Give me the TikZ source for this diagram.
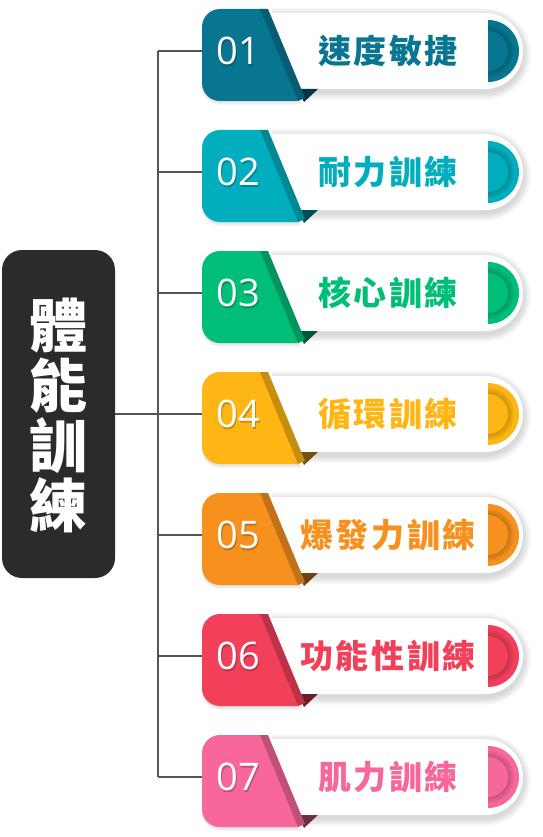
\documentclass[tikz,border=0pt]{standalone}
\usepackage{fontspec}
\newfontfamily\cjkfont{Noto Sans CJK TC}
\newfontfamily\cjksp{Noto Sans CJK TC}[LetterSpace=8]
\newfontfamily\numfont{Open Sans}
\definecolor{c01}{RGB}{8,118,145}
\definecolor{c02}{RGB}{0,174,190}
\definecolor{c03}{RGB}{0,190,120}
\definecolor{c04}{RGB}{253,182,19}
\definecolor{c05}{RGB}{247,145,30}
\definecolor{c06}{RGB}{242,64,90}
\definecolor{c07}{RGB}{247,103,155}
\definecolor{boxc}{RGB}{43,43,43}
\definecolor{linec}{RGB}{85,85,85}
\tikzset{
  conn/.style={draw=linec, line width=1.6pt},
  numtext/.style={text=white, font=\numfont\fontsize{38}{38}\selectfont, inner sep=0pt},
  numshadow/.style={text=black, opacity=0.22, font=\numfont\fontsize{38}{38}\selectfont, inner sep=0pt},
  labeltext/.style={font=\cjksp\bfseries\fontsize{33}{33}\selectfont, inner sep=0pt},
}
\begin{document}
\begin{tikzpicture}[x=1pt,y=-1pt]
\useasboundingbox (0,0) rectangle (542,837);
% main box
\node[fill=boxc, rounded corners=20pt, minimum width=113pt, minimum height=328pt, inner sep=0pt] (main) at (58.5,414) {};
\node[text=white, align=center, inner sep=0pt, font=\cjkfont\bfseries\fontsize{58}{60}\selectfont] (maintext) at (58.5,415) {體\\能\\訓\\練};
% junction coordinates
\foreach \n/\y in {1/51,2/172,3/293,4/414,5/535,6/656,7/777}{
  \coordinate (j\n) at (158,\y);
  \coordinate (t\n) at (204,\y);
}
\draw[conn] (j1) -- (j7);
\draw[conn] (main.east |- j4) -- (j4);
\foreach \n in {1,...,7}{ \draw[conn] (j\n) -- (t\n); }
% items
\foreach \n/\y/\lab in {01/51/速度敏捷,02/172/耐力訓練,03/293/核心訓練,04/414/循環訓練,05/535/爆發力訓練,06/656/功能性訓練,07/777/肌力訓練}{
  \colorlet{cc}{c\n}
  % bar shadow
  \foreach \k in {1,...,8}{
    \fill[black, opacity=0.018] (272,\y-38-\k+3) -- (485,\y-38-\k+3) arc[start angle=-90, end angle=90, radius=38+\k] -- (272,\y+38+\k+3) -- cycle;
  }
  % white bar
  \fill[white] (272,\y-38) -- (485,\y-38) arc[start angle=-90, end angle=90, radius=38] -- (272,\y+38) -- cycle;
  % dark fold triangle
  \fill[cc!45!black] (298,\y+38) -- (318,\y+38) -- (304,\y+51) -- cycle;
  % tab shadow
  \foreach \k in {1,...,4}{
    \fill[black, opacity=0.03] (262+\k,\y-42+\k) -- (298+\k,\y+50+\k) -- (220,\y+50+\k) arc[start angle=90, end angle=180, radius=18] -- (202,\y-24+\k) -- cycle;
  }
  % tab
  \fill[cc] (262,\y-42) -- (298,\y+50) -- (220,\y+50) arc[start angle=90, end angle=180, radius=18] -- (202,\y-24) arc[start angle=180, end angle=270, radius=18] -- cycle;
  % fold band
  \fill[cc!78!black] (260,\y-42) -- (268,\y-42) -- (305,\y+47) -- (298,\y+50) -- cycle;
  % right half disc
  \fill[cc] (488,\y-31) arc[start angle=-90, end angle=90, radius=31] -- cycle;
  \foreach \r in {26,24,22}{
    \fill[black, opacity=0.06] (488,\y-\r) arc[start angle=-90, end angle=90, radius=\r] -- cycle;
  }
  \fill[cc] (488,\y-20) arc[start angle=-90, end angle=90, radius=20] -- cycle;
  % texts
  \node[numshadow] (ns\n) at (239.5,\y+1.5) {\n};
  \node[numtext] (n\n) at (238,\y) {\n};
  \node[labeltext, text=cc] (l\n) at (388,\y) {\lab};
}
\end{tikzpicture}
\end{document}
